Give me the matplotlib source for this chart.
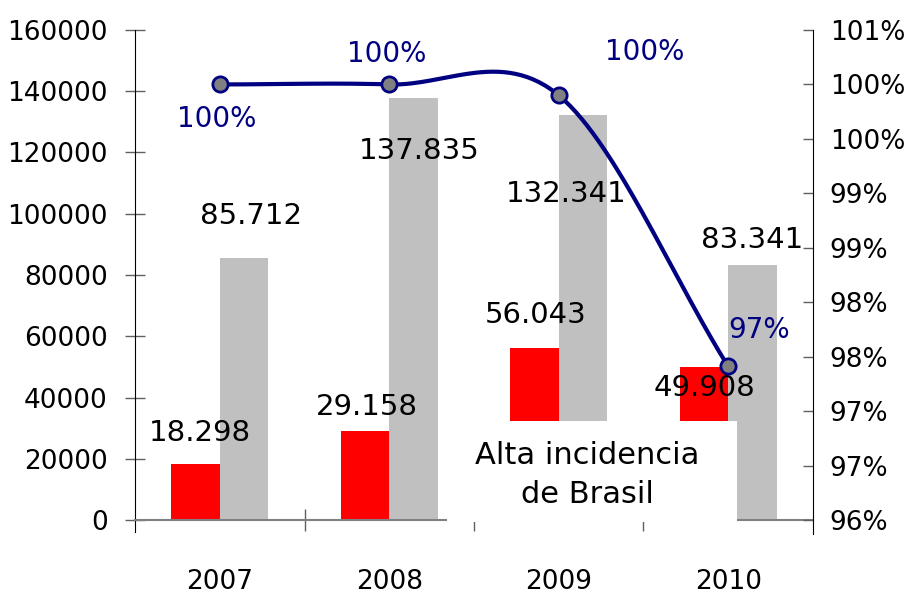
"""
Alta incidencia de Brasil - bars (two series) plus a smoothed percentage line
on a secondary axis
"""
import math
import numpy as np
import matplotlib
matplotlib.use("Agg")
import matplotlib.pyplot as plt
from matplotlib.ticker import FuncFormatter

# data
years = ["2007", "2008", "2009", "2010"]
red_values = [18298, 29158, 56043, 49908]
grey_values = [85712, 137835, 132341, 83341]
red_labels = ["18.298", "29.158", "56.043", "49.908"]
grey_labels = ["85.712", "137.835", "132.341", "83.341"]
pct_values = [100.0, 100.0, 99.90, 97.41]

# label placement (offsets in points from bar top / point)
red_offsets = [(3, 22), (1, 17), (1, 24), (0, -15)]
grey_offsets = [(5, 30), (4, -38), (-12, -57), (0, 18)]
pct_offsets = [(-2, -25), (-2, 22), (62, 31), (22, 26)]

NAVY = "#000080"
RED = "#FF0000"
GREY = "#C0C0C0"
plt.rcParams["font.family"] = ["DejaVu Sans"]
FS_AX = 19     # tick labels
FS_VAL = 21    # bar value labels
FS_PCT = 20    # percentage labels
FS_BOX = 22    # note in the box


def catmull_rom(xs, ys, n=60):
    # Excel-like smoothed line through the points
    xs = np.asarray(xs, float)
    ys = np.asarray(ys, float)
    px = np.concatenate([[2 * xs[0] - xs[1]], xs, [2 * xs[-1] - xs[-2]]])
    py = np.concatenate([[ys[0]], ys, [ys[-1] + (ys[-1] - ys[-2])]])
    out_x, out_y = [], []
    for i in range(1, len(px) - 2):
        t = np.linspace(0, 1, n)
        m1y = (py[i + 1] - py[i - 1]) / 2
        m2y = (py[i + 2] - py[i]) / 2
        if i == 1:
            m1y = py[i + 1] - py[i]
        h00 = 2 * t**3 - 3 * t**2 + 1
        h10 = t**3 - 2 * t**2 + t
        h01 = -2 * t**3 + 3 * t**2
        h11 = t**3 - t**2
        out_x.append(px[i] + t * (px[i + 1] - px[i]))
        out_y.append(h00 * py[i] + h10 * m1y + h01 * py[i + 1] + h11 * m2y)
    return np.concatenate(out_x), np.concatenate(out_y)


fig = plt.figure(figsize=(9.11, 5.95), dpi=100)
ax = fig.add_axes([0.1482, 0.126, 0.7442, 0.8236])
ax2 = ax.twinx()

x = np.arange(len(years))
w = 0.285
ax.bar(x - w / 2, red_values, w, color=RED, zorder=2)
ax.bar(x + w / 2, grey_values, w, color=GREY, zorder=2)

ax.set_xlim(-0.5, 3.5)
ax.set_ylim(0, 160000)
ax.set_yticks(range(0, 160001, 20000))
ax.tick_params(axis="y", direction="inout", length=15, width=1, color="#606060",
               labelsize=FS_AX, pad=12)

ax.set_xticks(x)
ax.set_xticklabels(years, fontsize=FS_AX)
ax.set_xticks([0.5, 1.5, 2.5], minor=True)
ax.tick_params(axis="x", which="major", length=0, pad=35)
ax.tick_params(axis="x", which="minor", direction="inout", length=16, width=1,
               color="#606060")

for s in ["top", "right"]:
    ax.spines[s].set_visible(False)
ax.spines["left"].set_color("black")
ax.spines["left"].set_bounds(-4000, 160000)
ax.spines["bottom"].set_color("#808080")
ax.spines["bottom"].set_linewidth(1.5)

for i in range(len(years)):
    ax.annotate(red_labels[i], (x[i] - w / 2, red_values[i]),
                xytext=red_offsets[i], textcoords="offset points",
                ha="center", va="center", fontsize=FS_VAL, zorder=5)
    ax.annotate(grey_labels[i], (x[i] + w / 2, grey_values[i]),
                xytext=grey_offsets[i], textcoords="offset points",
                ha="center", va="center", fontsize=FS_VAL, zorder=5)

# secondary axis with the percentage line
ax2.set_ylim(96.0, 100.5)
ax2.set_yticks(np.arange(96.0, 100.51, 0.5))
ax2.yaxis.set_major_formatter(FuncFormatter(lambda v, p: "%d%%" % math.floor(v + 0.5)))
ax2.tick_params(axis="y", direction="in", length=7, width=1, color="#606060",
                labelsize=FS_AX, pad=12)
for s in ["top", "left", "bottom"]:
    ax2.spines[s].set_visible(False)
ax2.spines["right"].set_color("black")
ax2.spines["right"].set_bounds(95.87, 100.5)

sx, sy = catmull_rom(x, pct_values)
ax2.plot(sx, sy, color=NAVY, lw=3, zorder=3, solid_capstyle="round")
ax2.plot(x, pct_values, "o", color="#808080", mec=NAVY, mew=2, ms=11, zorder=4)
for i in range(len(years)):
    ax2.annotate("%d%%" % round(pct_values[i]), (x[i], pct_values[i]),
                 xytext=pct_offsets[i], textcoords="offset points",
                 ha="center", va="center", fontsize=FS_PCT, color=NAVY)

# white text box hiding the bottom of the 2009/2010 bars
box = plt.Rectangle((1.341, -700), 3.052 - 1.341, 32900, transform=ax.transData,
                    facecolor="white", edgecolor="none", zorder=1, clip_on=False)
ax2.add_patch(box)
ax2.text(2.17, 0.092, "Alta incidencia\nde Brasil", transform=ax2.get_xaxis_transform(),
         ha="center", va="center", fontsize=FS_BOX, linespacing=1.4, zorder=2)

fig.savefig("out.png", dpi=100)
